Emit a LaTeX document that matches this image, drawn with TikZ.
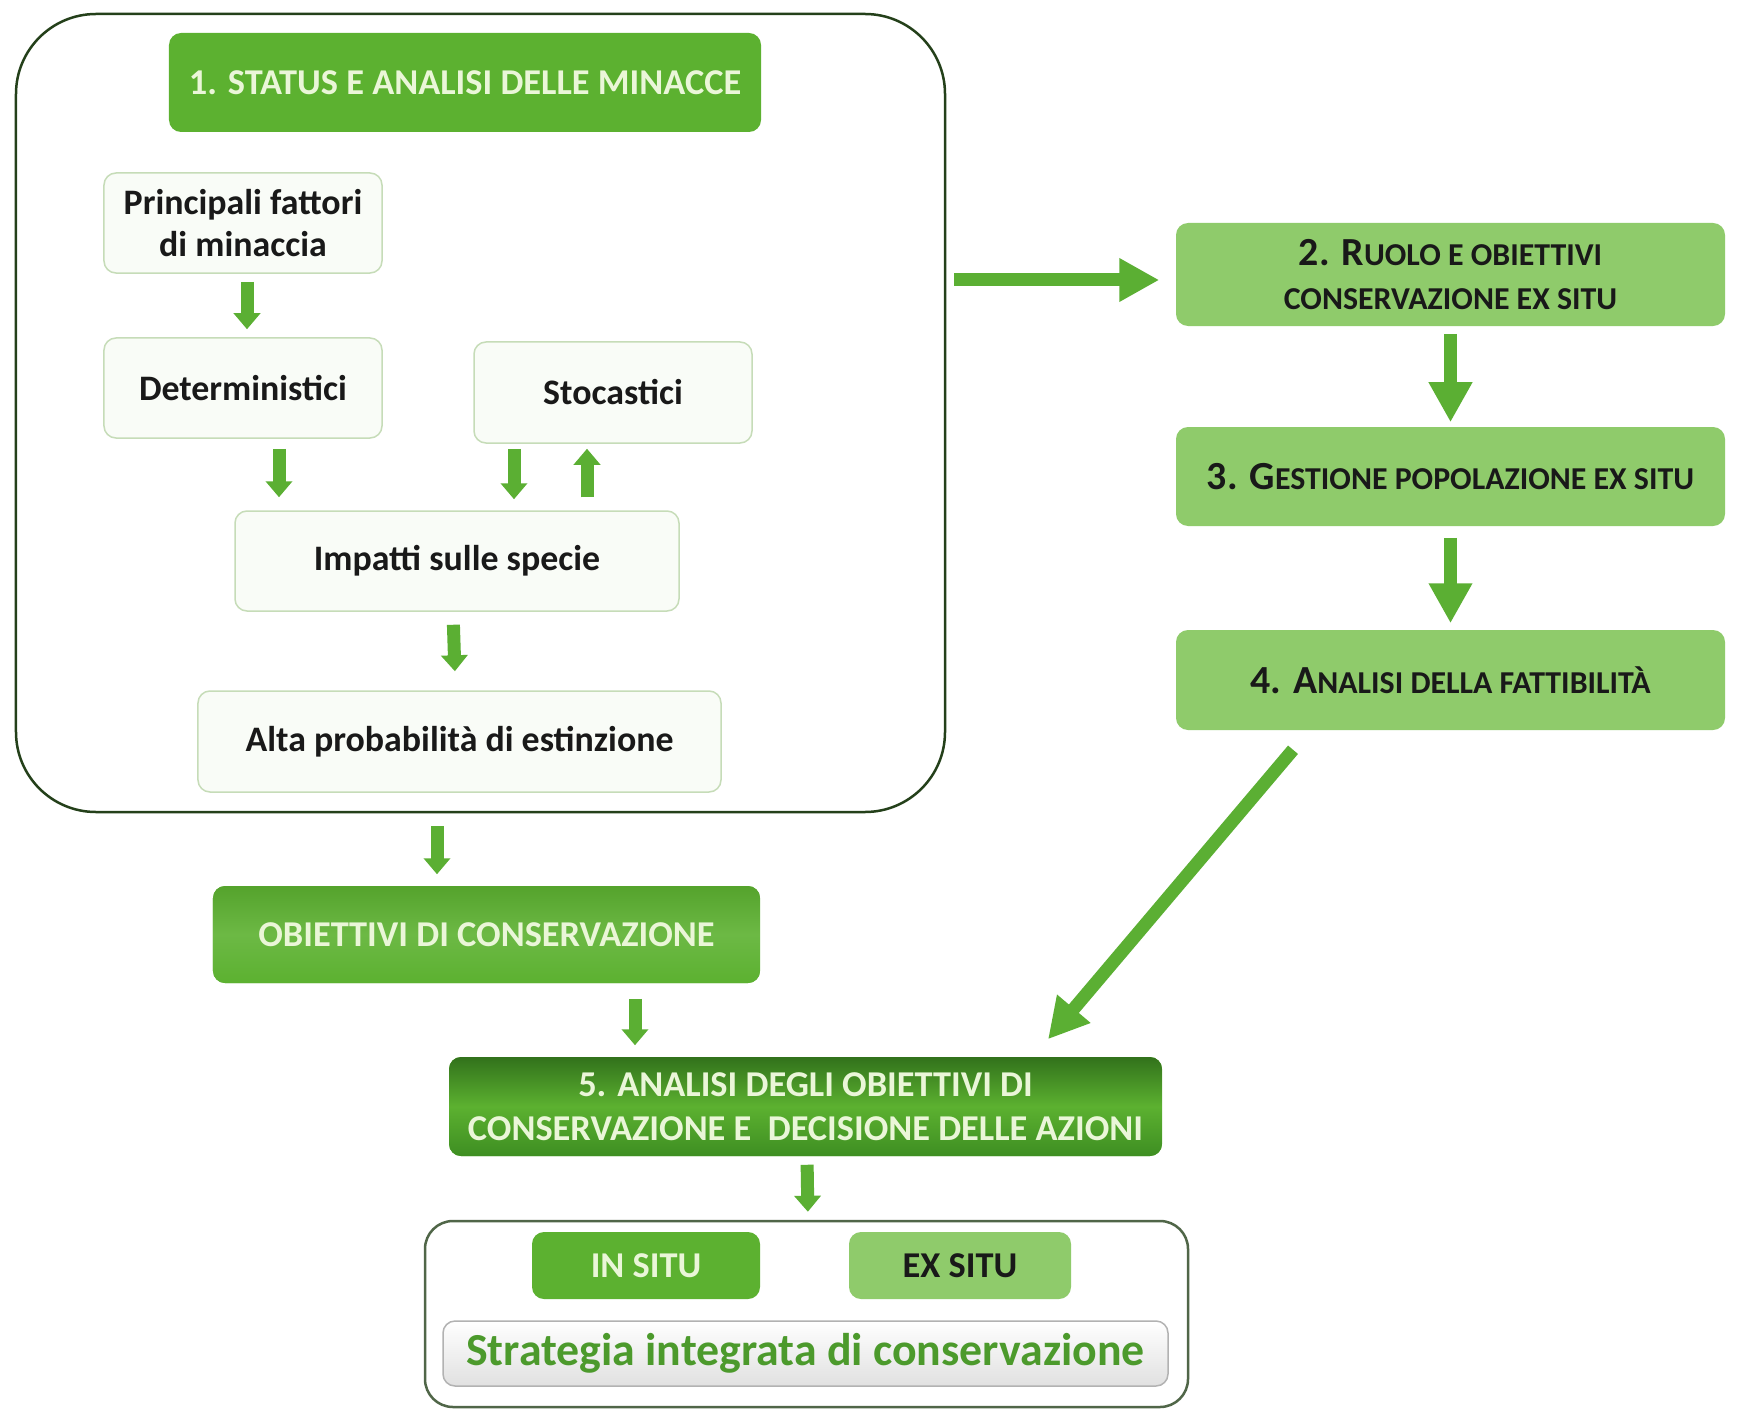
\documentclass[tikz,border=0pt]{standalone}
\usepackage{fontspec}
\setmainfont{Carlito}
\usetikzlibrary{arrows.meta,calc}
\definecolor{dg}{HTML}{5CB130}
\definecolor{dgd}{HTML}{3E8E22}
\definecolor{lg}{HTML}{8FCB6B}
\definecolor{txl}{HTML}{EAF6D8}
\definecolor{wb}{HTML}{C6DCB8}
\definecolor{wf}{HTML}{F9FCF7}
\definecolor{arr}{HTML}{5BAF33}
\definecolor{ob}{HTML}{24401A}
\definecolor{stx}{HTML}{4C9A2C}
\begin{document}
\begin{tikzpicture}[x=1bp,y=-1bp,
  font=\bfseries,
  bx/.style={rounded corners=12bp, inner sep=0pt, align=center, line width=1.5bp},
  wbox/.style={bx, draw=wb, fill=wf, text=black!90, font=\bfseries\fontsize{36}{42}\selectfont},
  dbox/.style={bx, fill=dg, text=txl},
  lbox/.style={bx, fill=lg, text=black!90},
  arrs/.style={draw=arr, line width=13bp, -{Triangle[length=16bp,width=26bp]}, shorten <=8bp, shorten >=8bp},
  arrb/.style={draw=arr, line width=13bp, -{Triangle[length=40bp,width=41bp]}, shorten <=8bp, shorten >=8bp},
]
\fill[white] (0,0) rectangle (1748,1416);
% outer boxes
\node[draw=ob, line width=2.5bp, rounded corners=80bp, minimum width=929bp, minimum height=798bp, inner sep=0pt] (outer1) at (480.5,413) {};
\node[draw=ob!80, line width=2.5bp, rounded corners=28bp, fill=white, minimum width=763bp, minimum height=186bp, inner sep=0pt] (outer2) at (806.5,1314) {};
% left column
\node[dbox, minimum width=592bp, minimum height=99bp, font=\bfseries\fontsize{36.5}{42}\selectfont] (t1) at (465,82.5) {1. STATUS E ANALISI DELLE MINACCE};
\node[wbox, minimum width=278bp, minimum height=100bp] (prin) at (243,223) {Principali fattori\\di minaccia};
\node[wbox, minimum width=278bp, minimum height=100bp] (det) at (243,388) {Deterministici};
\node[wbox, minimum width=278bp, minimum height=101bp] (sto) at (613,392.5) {Stocastici};
\node[wbox, minimum width=444bp, minimum height=100bp] (imp) at (457,561) {Impatti sulle specie};
\node[wbox, minimum width=523bp, minimum height=101bp] (alta) at (459.5,741.5) {Alta probabilità di estinzione};
\node[dbox, minimum width=547bp, minimum height=97bp, top color=dg!92!black, bottom color=dg, middle color=dg!90!white, font=\bfseries\fontsize{36.5}{42}\selectfont] (obj) at (486.5,934.5) {OBIETTIVI DI CONSERVAZIONE};
\node[dbox, minimum width=713bp, minimum height=99bp, top color=dgd!80!black, bottom color=dgd, middle color=dg, font=\bfseries\fontsize{36.5}{44}\selectfont] (b5) at (805.5,1106.5) {5. ANALISI DEGLI OBIETTIVI DI\\CONSERVAZIONE E \ DECISIONE DELLE AZIONI};
\node[dbox, minimum width=228bp, minimum height=67bp, font=\bfseries\fontsize{36.5}{40}\selectfont] (insitu) at (646,1265.5) {IN SITU};
\node[lbox, minimum width=222bp, minimum height=67bp, font=\bfseries\fontsize{36.5}{40}\selectfont] (exsitu) at (960,1265.5) {EX SITU};
\node[bx, draw=black!30, top color=white, bottom color=black!12, minimum width=725bp, minimum height=65bp, text=stx, font=\bfseries\fontsize{46}{50}\selectfont] (strat) at (805.5,1353.5) {Strategia integrata di conservazione};
% right column
\node[lbox, minimum width=549bp, minimum height=103bp, font=\bfseries\fontsize{32}{44}\selectfont] (b2) at (1450.5,274.5) {{\fontsize{40}{44}\selectfont 2. R}UOLO E OBIETTIVI\\CONSERVAZIONE EX SITU};
\node[lbox, minimum width=549bp, minimum height=99bp, font=\bfseries\fontsize{32}{40}\selectfont] (b3) at (1450.5,476.5) {{\fontsize{40}{40}\selectfont 3. G}ESTIONE POPOLAZIONE EX SITU};
\node[lbox, minimum width=549bp, minimum height=100bp, font=\bfseries\fontsize{32}{40}\selectfont] (b4) at (1450.5,680) {{\fontsize{40}{40}\selectfont 4. A}NALISI DELLA FATTIBILITÀ};
% connectors
\draw[arrs] ([xshift=4bp]prin.south) -- ([xshift=4bp]det.north);
\draw[arrs,shorten <=10bp,shorten >=13bp] ([xshift=36bp]det.south) -- ([xshift=36bp]det.south |- imp.north);
\draw[arrs,shorten <=5bp,shorten >=11bp] ([xshift=-99bp]sto.south) -- ([xshift=-99bp]sto.south |- imp.north);
\draw[arrs,shorten <=13bp,shorten >=5bp] ([xshift=-26bp]sto.south |- imp.north) -- ([xshift=-26bp]sto.south);
\draw[arrs,shorten <=13bp,shorten >=19bp] ([xshift=-4bp]imp.south) -- ([xshift=-4bp]alta.north);
\draw[arrs,shorten <=13bp,shorten >=11bp] ([xshift=-49.5bp]obj.north |- outer1.south) -- ([xshift=-49.5bp]obj.north);
\draw[arrs,shorten <=15bp,shorten >=11bp] ([xshift=148.5bp]obj.south) -- ([xshift=148.5bp]obj.south |- b5.north);
\draw[arrs] ([xshift=1.5bp]b5.south) -- ([xshift=1.5bp]outer2.north);
\draw[arrb,shorten <=8bp,shorten >=16bp] ([yshift=-5.5bp]b2.west -| outer1.east) -- ([yshift=-5.5bp]b2.west);
\draw[arrb,shorten <=7bp,shorten >=4bp] (b2.south) -- (b3.north);
\draw[arrb,shorten <=11bp,shorten >=6bp] (b3.south) -- (b4.north);
\draw[arrb,shorten <=0bp,shorten >=0bp] ([xshift=-157.5bp,yshift=-19bp]b4.south) -- ([xshift=242.5bp,yshift=17bp]b5.north);
\end{tikzpicture}
\end{document}
